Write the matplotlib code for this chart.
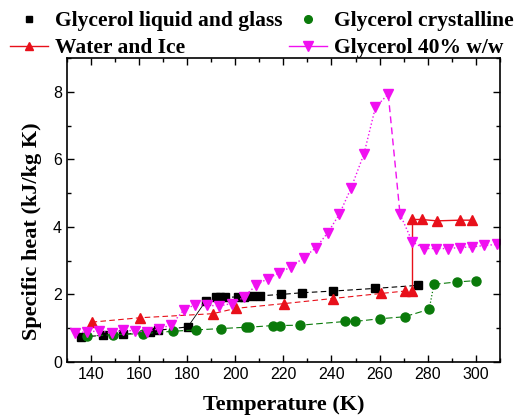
import matplotlib
matplotlib.use("Agg")
import matplotlib.pyplot as plt
from matplotlib.lines import Line2D
from matplotlib.ticker import MultipleLocator

# data
liq_T = [136.1, 145.1, 153.2, 164.6, 168.0, 180.3, 187.8, 192.1, 193.8, 195.8,
         201.1, 203.5, 207.0, 210.2, 219.0, 227.6, 240.5, 258.3, 276.0]
liq_c = [0.74, 0.79, 0.82, 0.89, 0.94, 1.04, 1.81, 1.91, 1.91, 1.91,
         1.93, 1.93, 1.95, 1.96, 2.00, 2.05, 2.10, 2.18, 2.27]

cry_T = [138.2, 149.3, 161.8, 174.0, 183.7, 194.2, 204.6, 205.7, 215.8, 218.5,
         227.1, 245.8, 249.6, 260.1, 270.4, 280.6, 282.6, 292.1, 300.0]
cry_c = [0.76, 0.81, 0.84, 0.91, 0.95, 0.99, 1.03, 1.03, 1.08, 1.08,
         1.09, 1.20, 1.20, 1.28, 1.34, 1.56, 2.30, 2.37, 2.41]

ice_T = [140.3, 160.4, 190.6, 200.4, 220.4, 240.5, 260.7, 270.4, 273.6]
ice_c = [1.18, 1.31, 1.43, 1.59, 1.73, 1.88, 2.03, 2.10, 2.10]
wat_T = [273.6, 277.5, 283.8, 293.5, 298.3]
wat_c = [4.22, 4.22, 4.18, 4.20, 4.20]

g40_T = [133.3, 138.2, 143.5, 148.6, 153.5, 158.3, 163.2, 168.3, 173.3, 178.5,
         183.3, 188.2, 193.3, 198.5, 203.5, 208.6, 213.5, 218.3, 223.3, 228.5,
         233.6, 238.5, 243.3, 248.2, 253.5, 258.3, 263.6, 268.5, 273.6, 278.5,
         283.5, 288.5, 293.5, 298.6, 303.5, 308.6]
g40_c = [0.86, 0.89, 0.92, 0.86, 0.94, 0.92, 0.89, 0.99, 1.09, 1.53,
         1.70, 1.68, 1.66, 1.73, 1.91, 2.27, 2.47, 2.64, 2.82, 3.09,
         3.39, 3.83, 4.38, 5.16, 6.16, 7.55, 7.93, 4.38, 3.56, 3.36,
         3.36, 3.36, 3.39, 3.41, 3.45, 3.48]


def main() -> None:
    plt.rcParams["figure.dpi"] = 100
    c_liq = "#000000"
    c_cry = "#0A7A0A"
    c_wat = "#E8101A"
    c_g40 = "#F010F0"
    serif = "Liberation Serif"
    sans = "Liberation Sans"

    fig = plt.figure(figsize=(5.18, 4.18))
    ax = fig.add_axes([0.129, 0.134, 0.836, 0.727])

    # glycerol liquid and glass: dashed, thin solid across the glass step
    ax.plot(liq_T[:6], liq_c[:6], color=c_liq, ls=(0, (5, 3)), lw=0.8)
    ax.plot(liq_T[5:7], liq_c[5:7], color=c_liq, ls="-", lw=0.6)
    ax.plot(liq_T[6:], liq_c[6:], color=c_liq, ls=(0, (5, 3)), lw=0.8,
            marker="s", ms=6)
    ax.plot(liq_T[:6], liq_c[:6], color=c_liq, ls="", marker="s", ms=6)

    # glycerol crystalline
    ax.plot(cry_T[:16], cry_c[:16], color=c_cry, ls=(0, (6, 3)), lw=0.8,
            marker="o", ms=6.5)
    ax.plot(cry_T[15:17], cry_c[15:17], color=c_cry, ls=":", lw=0.9)
    ax.plot(cry_T[16:], cry_c[16:], color=c_cry, ls=(0, (6, 3)), lw=0.8,
            marker="o", ms=6.5)

    # water and ice
    ax.plot(ice_T, ice_c, color=c_wat, ls=(0, (5, 3)), lw=0.8,
            marker="^", ms=7)
    ax.plot([ice_T[-1], wat_T[0]], [ice_c[-1], wat_c[0]], color=c_wat,
            ls="-", lw=1.0)
    ax.plot(wat_T, wat_c, color=c_wat, ls="-", lw=1.0, marker="^", ms=7)

    # glycerol 40% w/w
    ax.plot(g40_T[:27], g40_c[:27], color=c_g40, ls=":", lw=1.0,
            marker="v", ms=7.5)
    ax.plot(g40_T[26:28], g40_c[26:28], color=c_g40, ls=(0, (5, 3)), lw=1.0)
    ax.plot(g40_T[27:], g40_c[27:], color=c_g40, ls=":", lw=1.0,
            marker="v", ms=7.5)

    ax.set_xlim(130, 310)
    ax.set_ylim(0, 9)
    ax.xaxis.set_major_locator(MultipleLocator(20))
    ax.xaxis.set_minor_locator(MultipleLocator(10))
    ax.yaxis.set_major_locator(MultipleLocator(2))
    ax.yaxis.set_minor_locator(MultipleLocator(1))
    ax.tick_params(which="both", direction="in", top=True, right=True,
                   width=1.0)
    ax.tick_params(which="major", length=5, labelsize=11.5)
    ax.tick_params(which="minor", length=3)
    for lab in ax.get_xticklabels() + ax.get_yticklabels():
        lab.set_fontfamily(sans)
    for sp in ax.spines.values():
        sp.set_linewidth(1.2)

    ax.set_xlabel("Temperature (K)", fontfamily=serif, fontweight="bold",
                  fontsize=16)
    ax.xaxis.set_label_coords(0.5, -0.11)
    ax.set_ylabel("Specific heat (kJ/kg K)", fontfamily=serif,
                  fontweight="bold", fontsize=16)
    ax.yaxis.set_label_coords(-0.057, 0.43)

    handles = [
        Line2D([], [], color=c_liq, ls="", marker="s", ms=5),
        Line2D([], [], color=c_wat, ls="-", lw=1.0, marker="^", ms=6),
        Line2D([], [], color=c_cry, ls="", marker="o", ms=5.5),
        Line2D([], [], color=c_g40, ls="-", lw=1.0, marker="v", ms=6.5),
    ]
    labels = ["Glycerol liquid and glass", "Water and Ice",
              "Glycerol crystalline", "Glycerol 40% w/w"]
    fig.legend(handles, labels, ncol=2, loc="upper left",
               bbox_to_anchor=(10 / 518, 1 - 11 / 418), frameon=False,
               prop={"family": serif, "weight": "bold", "size": 15.5},
               handlelength=1.77, handletextpad=0.33, columnspacing=0.3,
               labelspacing=0.33, borderpad=0.0, borderaxespad=0.0)

    fig.savefig("out.png")
    plt.close(fig)


if __name__ == "__main__":
    main()
